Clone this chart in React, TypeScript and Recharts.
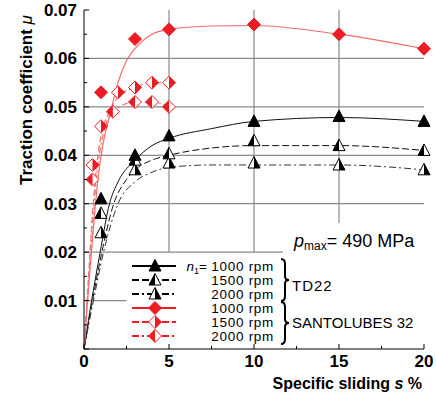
import { ComposedChart, Line, Scatter, XAxis, YAxis, ReferenceLine } from 'recharts';

// axis ticks (major + minor)
const xTicks = [0, 2.5, 5, 7.5, 10, 12.5, 15, 17.5, 20];
const yTicks = [0, 0.005, 0.01, 0.015, 0.02, 0.025, 0.03, 0.035, 0.04, 0.045, 0.05, 0.055, 0.06, 0.065, 0.07];

// measured points, TD22
const sX = [1, 3, 5, 10, 15, 20];
const td1000 = [0.031, 0.040, 0.044, 0.047, 0.048, 0.047];
const td1500 = [0.028, 0.039, 0.0403, 0.043, 0.042, 0.041];
const td2000 = [0.024, 0.037, 0.0384, 0.0384, 0.038, 0.037];

// measured points, SANTOLUBES 32
const sl1000 = [0.053, 0.064, 0.066, 0.067, 0.065, 0.062];
const sl1500X = [0.5, 1, 2, 3, 4, 5];
const sl1500 = [0.038, 0.046, 0.053, 0.054, 0.055, 0.055];
const sl2000X = [0.5, 1.7, 3, 4, 5];
const sl2000 = [0.035, 0.049, 0.051, 0.051, 0.050];

// fitted curves
const td1000FitX = [0, 0.45, 0.95, 1.5, 2, 3, 4, 5, 7.5, 10, 15, 20];
const td1000Fit = [0, 0.01, 0.02, 0.03, 0.0345, 0.039, 0.042, 0.0435, 0.0455, 0.047, 0.0478, 0.047];
const td1500FitX = [0, 0.45, 1.05, 1.75, 2.5, 3, 4, 5, 7.5, 10, 15, 20];
const td1500Fit = [0, 0.009, 0.02, 0.03, 0.035, 0.037, 0.039, 0.040, 0.0415, 0.042, 0.042, 0.041];
const td2000FitX = [0, 0.5, 1.15, 2, 3, 4, 5, 7.5, 10, 15, 20];
const td2000Fit = [0, 0.009, 0.02, 0.03, 0.0345, 0.0365, 0.0375, 0.038, 0.038, 0.038, 0.037];

const sl1000FitX = [0, 0.3, 0.6, 0.85, 1.1, 1.5, 2, 2.5, 3, 4, 5, 7.5, 10, 15, 20];
const sl1000Fit = [0, 0.014, 0.027, 0.036, 0.042, 0.048, 0.055, 0.0595, 0.062, 0.065, 0.066, 0.0667, 0.0668, 0.065, 0.062];
const sl1500FitX = [0, 0.3, 0.5, 0.75, 1, 1.5, 2, 3, 4, 5];
const sl1500Fit = [0, 0.017, 0.028, 0.038, 0.044, 0.049, 0.052, 0.054, 0.055, 0.055];
const sl2000FitX = [0, 0.3, 0.5, 0.75, 1, 1.7, 3, 4, 5];
const sl2000Fit = [0, 0.015, 0.025, 0.036, 0.042, 0.049, 0.051, 0.051, 0.050];

// grid pieces that are visible (rest hidden by the legend / label boxes)
const gridSegs = [
  { x0: 0, x1: 20, y0: 0.06, y1: 0.06 },
  { x0: 0, x1: 20, y0: 0.05, y1: 0.05 },
  { x0: 0, x1: 20, y0: 0.04, y1: 0.04 },
  { x0: 0, x1: 20, y0: 0.03, y1: 0.03 },
  { x0: 0, x1: 11.7, y0: 0.02, y1: 0.02 },
  { x0: 0, x1: 2.5, y0: 0.01, y1: 0.01 },
  { x0: 5, x1: 5, y0: 0.02, y1: 0.07 },
  { x0: 10, x1: 10, y0: 0.02, y1: 0.07 },
  { x0: 15, x1: 15, y0: 0.026, y1: 0.07 },
];

const zip = (xs: number[], ys: number[]) => xs.map((x, i) => ({ x, y: ys[i] }));

const RED = '#ec1c24';
const RED_LINE = '#f26d6d';
const FONT = '"Liberation Sans", Arial, sans-serif';

const isMajor = (v: number, step: number) => Math.abs(v / step - Math.round(v / step)) < 1e-6;

function LeftTick(props: any) {
  const { x, y, payload } = props;
  const v = payload.value;
  const ax = x + 7;
  const major = isMajor(v, 0.01);
  return (
    <g>
      <line x1={ax} x2={ax + (major ? 5 : 3)} y1={y} y2={y} stroke="#000" />
      {major && v > 0 && (
        <text x={x} y={y + 6} textAnchor="end" fontSize={17} fontWeight="bold" fontFamily={FONT}>
          {v.toFixed(2)}
        </text>
      )}
    </g>
  );
}

function RightTick(props: any) {
  const { x, y, payload } = props;
  const ax = x - 2;
  const major = isMajor(payload.value, 0.01);
  return <line x1={ax} x2={ax - (major ? 5 : 3)} y1={y} y2={y} stroke="#000" />;
}

function BottomTick(props: any) {
  const { x, y, payload } = props;
  const v = payload.value;
  const ay = y - 2;
  const major = isMajor(v, 5);
  return (
    <g>
      <line x1={x} x2={x} y1={ay} y2={ay - (major ? 5 : 3)} stroke="#000" />
      {major && (
        <text x={x} y={ay + 18} textAnchor="middle" fontSize={17} fontWeight="bold" fontFamily={FONT}>
          {v}
        </text>
      )}
    </g>
  );
}

function TopTick(props: any) {
  const { x, y, payload } = props;
  const ay = y + 2;
  const major = isMajor(payload.value, 5);
  return <line x1={x} x2={x} y1={ay} y2={ay + (major ? 5 : 3)} stroke="#000" />;
}

// triangle markers: full / left half / right half filled
function tri(cx: number, cy: number, fill: 'full' | 'left' | 'right') {
  const t = `${cx},${cy - 6.5} ${cx - 6},${cy + 5} ${cx + 6},${cy + 5}`;
  return (
    <g>
      <polygon points={t} fill={fill === 'full' ? '#000' : '#fff'} stroke="#000" strokeWidth={1} />
      {fill === 'left' && <polygon points={`${cx},${cy - 6.5} ${cx - 6},${cy + 5} ${cx},${cy + 5}`} fill="#000" />}
      {fill === 'right' && <polygon points={`${cx},${cy - 6.5} ${cx + 6},${cy + 5} ${cx},${cy + 5}`} fill="#000" />}
    </g>
  );
}

function dia(cx: number, cy: number, fill: 'full' | 'left' | 'right') {
  const d = `${cx},${cy - 6.5} ${cx + 6.5},${cy} ${cx},${cy + 6.5} ${cx - 6.5},${cy}`;
  return (
    <g>
      <polygon points={d} fill={fill === 'full' ? RED : '#fff'} stroke={RED} strokeWidth={1} />
      {fill === 'left' && <polygon points={`${cx},${cy - 6.5} ${cx - 6.5},${cy} ${cx},${cy + 6.5}`} fill={RED} />}
      {fill === 'right' && <polygon points={`${cx},${cy - 6.5} ${cx + 6.5},${cy} ${cx},${cy + 6.5}`} fill={RED} />}
    </g>
  );
}

const legendRows = [
  { label: '1000 rpm', color: '#000', dash: undefined, mark: (x: number, y: number) => tri(x, y, 'full') },
  { label: '1500 rpm', color: '#000', dash: '7 3', mark: (x: number, y: number) => tri(x, y, 'left') },
  { label: '2000 rpm', color: '#000', dash: '7 3 2 3', mark: (x: number, y: number) => tri(x, y, 'right') },
  { label: '1000 rpm', color: RED, dash: undefined, mark: (x: number, y: number) => dia(x, y, 'full') },
  { label: '1500 rpm', color: RED, dash: '7 3', mark: (x: number, y: number) => dia(x, y, 'right') },
  { label: '2000 rpm', color: RED, dash: '7 3 2 3', mark: (x: number, y: number) => dia(x, y, 'left') },
];

function brace(x: number, y1: number, y2: number) {
  const m = (y1 + y2) / 2;
  const h = x + 4;
  return `M${x},${y1} Q${h},${y1} ${h},${y1 + 5} L${h},${m - 4} Q${h},${m} ${x + 8},${m} Q${h},${m} ${h},${m + 4} L${h},${y2 - 5} Q${h},${y2} ${x},${y2}`;
}

function Overlay() {
  return (
    <svg width={436} height={399} style={{ position: 'absolute', left: 0, top: 0, pointerEvents: 'none' }} fontFamily={FONT}>
      <text transform="translate(32,100) rotate(-90)" textAnchor="middle" fontSize={17} fontWeight="bold">
        Traction coefficient <tspan fontStyle="italic" fontWeight="normal">μ</tspan>
      </text>
      <text x={422} y={389} textAnchor="end" fontSize={16} fontWeight="bold">
        Specific sliding <tspan fontStyle="italic">s</tspan> %
      </text>
      <text x={294} y={247} fontSize={18}>
        <tspan fontStyle="italic">p</tspan>
        <tspan fontSize={12} dy={3}>max</tspan>
        <tspan dy={-3}>= 490 MPa</tspan>
      </text>
      {legendRows.map((r, i) => {
        const y = 266 + i * 14;
        return (
          <g key={i}>
            <line x1={132} x2={176} y1={y} y2={y} stroke={r.color} strokeWidth={2} strokeDasharray={r.dash} />
            {r.mark(155, y)}
            <text x={274} y={y + 4.5} textAnchor="end" fontSize={13.5} letterSpacing={0.7}>{r.label}</text>
          </g>
        );
      })}
      <text x={207} y={270.5} textAnchor="end" fontSize={13.5}>
        <tspan fontStyle="italic">n</tspan>
        <tspan fontSize={9} dy={3}>1</tspan>
        <tspan dy={-3}>=</tspan>
      </text>
      <path d={brace(281, 259, 301)} fill="none" stroke="#000" strokeWidth={2} />
      <path d={brace(281, 302, 344)} fill="none" stroke="#000" strokeWidth={2} />
      <text x={292} y={291} fontSize={15} letterSpacing={1}>TD22</text>
      <text x={292} y={328} fontSize={15}>SANTOLUBES 32</text>
    </svg>
  );
}

export default function App() {
  return (
    <div style={{ position: 'absolute', left: 0, top: 0, width: 436, height: 399, background: '#fff' }}>
      <ComposedChart width={436} height={399} margin={{ top: 10, right: 12, left: 0, bottom: 0 }}>
        <XAxis dataKey="x" type="number" domain={[0, 20]} ticks={xTicks} interval={0} height={50}
          tickSize={0} tickMargin={2} tickLine={false} tick={<BottomTick />} axisLine={{ stroke: '#000' }} />
        <XAxis xAxisId="t" dataKey="x" type="number" orientation="top" domain={[0, 20]} ticks={xTicks} interval={0} height={0}
          tickSize={0} tickMargin={2} tickLine={false} tick={<TopTick />} axisLine={{ stroke: '#000' }} />
        <YAxis type="number" domain={[0, 0.07]} ticks={yTicks} interval={0} width={84}
          tickSize={0} tickMargin={7} tickLine={false} tick={<LeftTick />} axisLine={{ stroke: '#000' }} />
        <YAxis yAxisId="r" type="number" orientation="right" domain={[0, 0.07]} ticks={yTicks} interval={0} width={0}
          tickSize={0} tickMargin={2} tickLine={false} tick={<RightTick />} axisLine={{ stroke: '#000' }} />

        {gridSegs.map((g, i) => (
          <ReferenceLine key={i} segment={[{ x: g.x0, y: g.y0 }, { x: g.x1, y: g.y1 }]} stroke="#8a8a8a" strokeWidth={1.2} />
        ))}

        <Line data={zip(td1000FitX, td1000Fit)} dataKey="y" type="monotone" stroke="#111" strokeWidth={1} dot={false} isAnimationActive={false} />
        <Line data={zip(td1500FitX, td1500Fit)} dataKey="y" type="monotone" stroke="#111" strokeWidth={1} strokeDasharray="7 3" dot={false} isAnimationActive={false} />
        <Line data={zip(td2000FitX, td2000Fit)} dataKey="y" type="monotone" stroke="#333" strokeWidth={1} strokeDasharray="7 3 2 3" dot={false} isAnimationActive={false} />
        <Line data={zip(sl1000FitX, sl1000Fit)} dataKey="y" type="monotone" stroke={RED_LINE} strokeWidth={1.2} dot={false} isAnimationActive={false} />
        <Line data={zip(sl1500FitX, sl1500Fit)} dataKey="y" type="monotone" stroke={RED_LINE} strokeWidth={1.2} strokeDasharray="6 3" dot={false} isAnimationActive={false} />
        <Line data={zip(sl2000FitX, sl2000Fit)} dataKey="y" type="monotone" stroke={RED_LINE} strokeWidth={1.2} strokeDasharray="6 3 2 3" dot={false} isAnimationActive={false} />

        <Scatter data={zip(sX, td2000)} dataKey="y" isAnimationActive={false} shape={(p: any) => tri(p.cx, p.cy, 'right')} />
        <Scatter data={zip(sX, td1500)} dataKey="y" isAnimationActive={false} shape={(p: any) => tri(p.cx, p.cy, 'left')} />
        <Scatter data={zip(sX, td1000)} dataKey="y" isAnimationActive={false} shape={(p: any) => tri(p.cx, p.cy, 'full')} />
        <Scatter data={zip(sl2000X, sl2000)} dataKey="y" isAnimationActive={false} shape={(p: any) => dia(p.cx, p.cy, 'left')} />
        <Scatter data={zip(sl1500X, sl1500)} dataKey="y" isAnimationActive={false} shape={(p: any) => dia(p.cx, p.cy, 'right')} />
        <Scatter data={zip(sX, sl1000)} dataKey="y" isAnimationActive={false} shape={(p: any) => dia(p.cx, p.cy, 'full')} />
        <Scatter xAxisId="t" yAxisId="r" data={[{ x: 0, y: 0 }]} dataKey="y" isAnimationActive={false} shape={() => <g />} />
      </ComposedChart>
      <Overlay />
    </div>
  );
}
